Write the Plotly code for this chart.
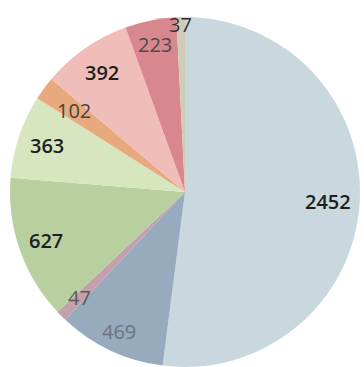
import math
import plotly.graph_objects as go

values = [2452, 469, 47, 627, 363, 102, 392, 223, 37]
labels = ["A", "B", "C", "D", "E", "F", "G", "H", "I"]
colors = ["#c9d8df", "#98aabd", "#c4a0aa", "#b8cf9f", "#d8e6c0",
          "#e9a97f", "#f0bdb9", "#d9878f", "#cfcdb8"]
text_colors = ["#1e1e1e", "#6b7382", "#5a5a5a", "#1e1e1e", "#1e1e1e",
               "#444444", "#1e1e1e", "#4a4a4a", "#333333"]
text_weights = [600, 400, 400, 600, 600, 400, 600, 400, 400]
label_r = [0.82, 0.88, 0.85, 0.84, 0.83, 0.79, 0.83, 0.86, 0.96]

W, H = 364, 367
cx, cy, R = 185, 192, 175

fig = go.Figure(go.Pie(
    values=values, labels=labels, sort=False, direction="clockwise",
    rotation=0, marker=dict(colors=colors, line=dict(width=0)),
    textinfo="none", hoverinfo="label+value", showlegend=False,
    domain=dict(x=[(cx - R) / W, (cx + R) / W], y=[0, 2 * R / H]),
))

total = sum(values)
cum = 0
annotations = []
for v, tc, tw, rf in zip(values, text_colors, text_weights, label_r):
    mid = (cum + v / 2) / total * 2 * math.pi
    cum += v
    px = cx + rf * R * math.sin(mid)
    py = cy - rf * R * math.cos(mid)
    annotations.append(dict(
        x=px / W, y=1 - py / H, xref="paper", yref="paper",
        text=str(v), showarrow=False,
        font=dict(family="Open Sans", size=20, color=tc, weight=tw),
        xanchor="center", yanchor="middle"))

fig.update_layout(
    width=W, height=H, margin=dict(l=0, r=0, t=0, b=0),
    paper_bgcolor="white", plot_bgcolor="white",
    annotations=annotations,
)
fig.write_html("out.html")
